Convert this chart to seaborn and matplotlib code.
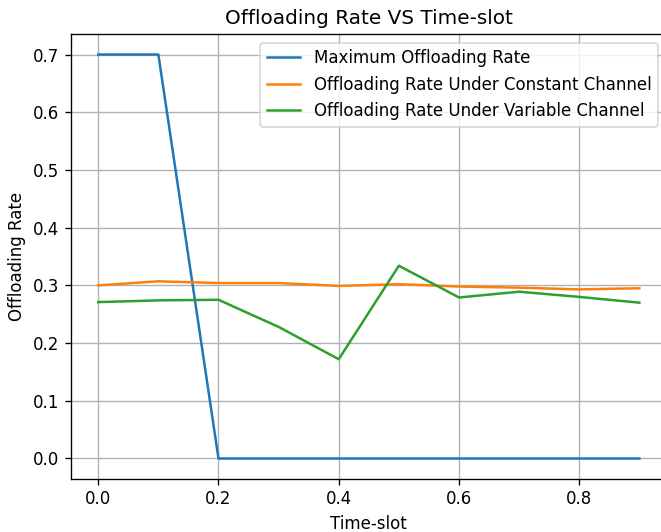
import matplotlib
matplotlib.use("Agg")
import matplotlib.pyplot as plt
import seaborn as sns
import pandas as pd

time_slots = [0.0, 0.1, 0.2, 0.3, 0.4, 0.5, 0.6, 0.7, 0.8, 0.9]
max_rate = [0.7, 0.7, 0.0, 0.0, 0.0, 0.0, 0.0, 0.0, 0.0, 0.0]
constant_rate = [0.300, 0.307, 0.304, 0.304, 0.299, 0.302, 0.298, 0.296, 0.293, 0.295]
variable_rate = [0.271, 0.274, 0.275, 0.228, 0.172, 0.334, 0.279, 0.289, 0.280, 0.270]

series_names = [
    "Maximum Offloading Rate",
    "Offloading Rate Under Constant Channel",
    "Offloading Rate Under Variable Channel",
]
series_values = [max_rate, constant_rate, variable_rate]
colors = ["#1f77b4", "#ff7f0e", "#2ca02c"]

df = pd.concat(
    [pd.DataFrame({"Time-slot": time_slots, "rate": vals, "series": name})
     for name, vals in zip(series_names, series_values)],
    ignore_index=True,
)

plt.rcParams["font.family"] = ["DejaVu Sans"]
DPI = 120
fig = plt.figure(figsize=(661 / DPI, 532 / DPI), dpi=DPI)
ax = fig.add_axes([0.1077, 0.1002, 0.9005, 0.8353])

sns.lineplot(data=df, x="Time-slot", y="rate", hue="series",
             palette=dict(zip(series_names, colors)), linewidth=1.5,
             ax=ax, legend=True)

ax.grid(True, color="#b0b0b0", linewidth=0.8)
ax.set_axisbelow(True)
ax.set_xticks([0.0, 0.2, 0.4, 0.6, 0.8])
ax.set_yticks([0.0, 0.1, 0.2, 0.3, 0.4, 0.5, 0.6, 0.7])
ax.tick_params(labelsize=10)
ax.set_xlabel("Time-slot", fontsize=10)
ax.set_ylabel("Offloading Rate", fontsize=10)
ax.set_title("Offloading Rate VS Time-slot", fontsize=12)

handles, labels = ax.get_legend_handles_labels()
ax.legend(handles, labels, loc="upper right", fontsize=10)

fig.savefig("out.png", dpi=DPI)
